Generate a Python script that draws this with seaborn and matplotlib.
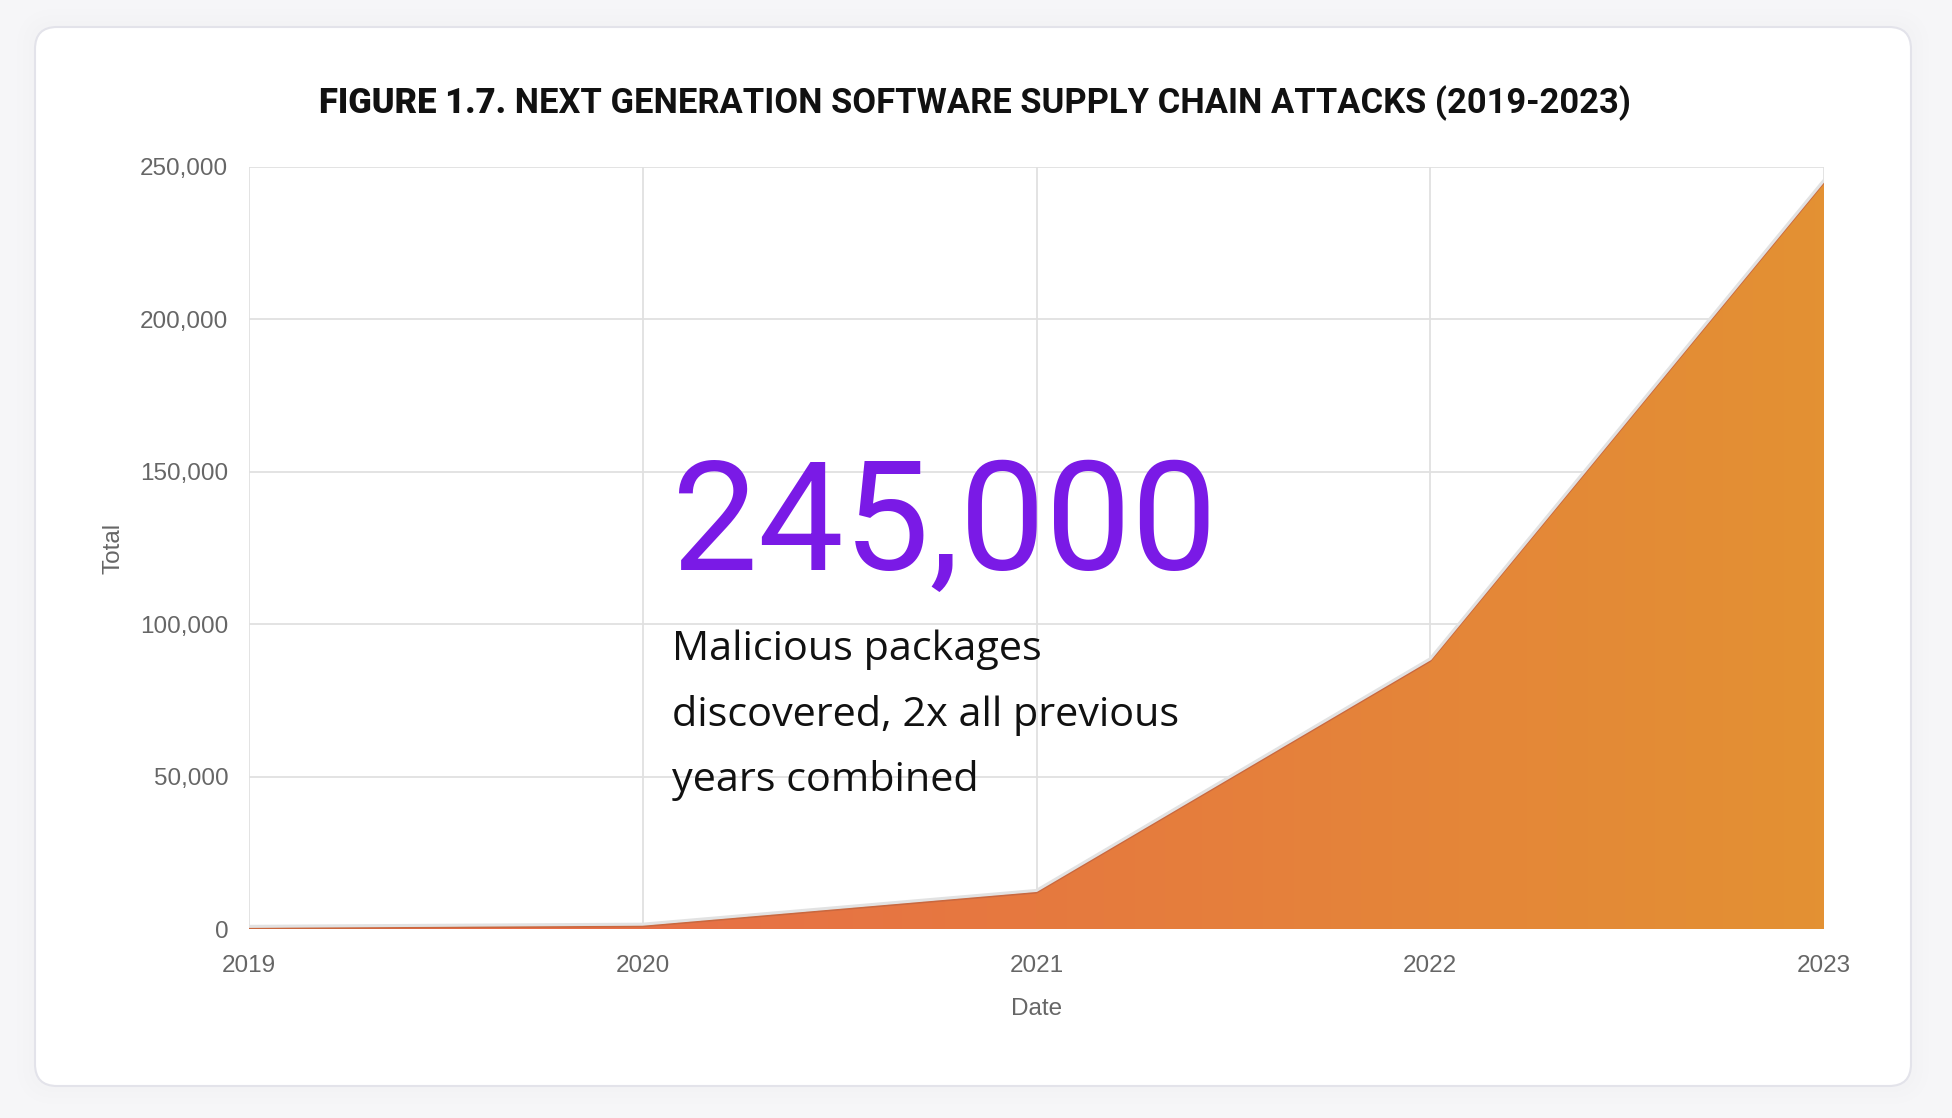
import numpy as np
import pandas as pd
import matplotlib
matplotlib.use('Agg')
import matplotlib.pyplot as plt
import seaborn as sns
from matplotlib.patches import FancyBboxPatch, PathPatch
from matplotlib.colors import LinearSegmentedColormap
from matplotlib.ticker import FuncFormatter
import matplotlib.transforms as mtransforms

# data
years = [2019, 2020, 2021, 2022, 2023]
totals = [216, 929, 12000, 88000, 245000]
ytick_vals = [0, 50000, 100000, 150000, 200000, 250000]
title_a = 'FIGURE 1.7.'
title_b = ' NEXT GENERATION SOFTWARE SUPPLY CHAIN ATTACKS (2019-2023)'
big_number = '245,000'
note_lines = ['Malicious packages', 'discovered, 2x all previous', 'years combined']

df = pd.DataFrame({'Date': years, 'Total': totals})

sns.set_theme(style='white')
plt.rcParams['font.family'] = ['Liberation Sans', 'DejaVu Sans']

W, H = 1952, 1118
fig = plt.figure(figsize=(W / 100, H / 100), dpi=100)
fig.patch.set_facecolor('#f6f6f8')

# card background
bg = fig.add_axes([0, 0, 1, 1])
bg.set_xlim(0, W)
bg.set_ylim(0, H)
bg.axis('off')
for i, a in enumerate([0.025, 0.02, 0.015]):
    s = 6 + i * 6
    bg.add_patch(FancyBboxPatch((35 - s, 32 - s), 1876 + 2 * s, 1059 + 2 * s,
                                boxstyle='round,pad=0,rounding_size=%d' % (22 + s),
                                facecolor='#d8d8e0', edgecolor='none', alpha=a))
bg.add_patch(FancyBboxPatch((35, 32), 1876, 1059, boxstyle='round,pad=0,rounding_size=22',
                            facecolor='white', edgecolor='#e3e3ea', lw=1.5))

ax = fig.add_axes([249 / W, 1 - 929 / H, (1824 - 249) / W, (929 - 167) / H])
ax.set_facecolor('none')

# area with gradient fill
poly = ax.fill_between(df['Date'], df['Total'], 0, facecolor='none', edgecolor='none')
cmap = LinearSegmentedColormap.from_list('org', ['#e8684e', '#e6793f', '#e39133'])
grad = np.linspace(0, 1, 256).reshape(1, -1)
im = ax.imshow(grad, extent=[2019, 2023, 0, 250000], aspect='auto', cmap=cmap,
               origin='lower', zorder=2, interpolation='bilinear')
clip = PathPatch(poly.get_paths()[0], transform=ax.transData, facecolor='none', edgecolor='none')
ax.add_patch(clip)
im.set_clip_path(clip)

sns.lineplot(data=df, x='Date', y='Total', ax=ax, color='#c9683f', lw=1.6, zorder=3)
up = mtransforms.offset_copy(ax.transData, fig=fig, x=0, y=2, units='dots')
ax.plot(df['Date'], df['Total'], color='#e2e2e2', lw=2.2, zorder=4, transform=up,
        solid_joinstyle='round')

ax.set_xlim(2019, 2023)
ax.set_ylim(0, 250000)
ax.set_xticks(years)
ax.set_yticks(ytick_vals)
ax.yaxis.set_major_formatter(FuncFormatter(lambda v, p: f'{int(v):,}'))
ax.grid(True, color='#e0e0e0', lw=1.3, zorder=0)
ax.set_axisbelow(True)
for sp in ax.spines.values():
    sp.set_visible(False)
ax.tick_params(axis='both', length=11, width=1.3, color='#e0e0e0', labelcolor='#666666',
               labelsize=17.5)
ax.tick_params(axis='x', pad=8)
ax.tick_params(axis='y', pad=4)
ax.set_xlabel('Date', fontsize=17.5, color='#666666', labelpad=15)
ax.set_ylabel('Total', fontsize=17.5, color='#666666', labelpad=11)

# title, fitted to the reference width
ty = 1 - 103.5 / H
ta = fig.text(0.5, ty, title_a, fontsize=30, fontweight='black', family=['Roboto', 'DejaVu Sans'],
              color='#111111', va='center', ha='left')
tb = fig.text(0.5, ty, title_b, fontsize=30, fontweight='bold', family=['Roboto', 'DejaVu Sans'],
              color='#111111', va='center', ha='left')
fig.canvas.draw()
r = fig.canvas.get_renderer()
tot = ta.get_window_extent(r).width + tb.get_window_extent(r).width
fs = min(27, 30 * 1309 / tot)
ta.set_fontsize(fs)
tb.set_fontsize(fs)
fig.canvas.draw()
wa = ta.get_window_extent(r).width
wb = tb.get_window_extent(r).width
x0 = (975 - (wa + wb) / 2) / W
ta.set_x(x0)
tb.set_x(x0 + wa / W)

# annotation
fig.text(672 / W, 1 - 570 / H, big_number, fontsize=110, color='#7a1ae6',
         family=['Roboto', 'DejaVu Sans'], va='baseline', ha='left')
for i, line in enumerate(note_lines):
    fig.text(672 / W, 1 - (660 + 65.5 * i) / H, line, fontsize=29.8, color='#111111',
             family=['Open Sans', 'DejaVu Sans'], va='baseline', ha='left')

fig.savefig('out.png', dpi=100, facecolor=fig.get_facecolor())
